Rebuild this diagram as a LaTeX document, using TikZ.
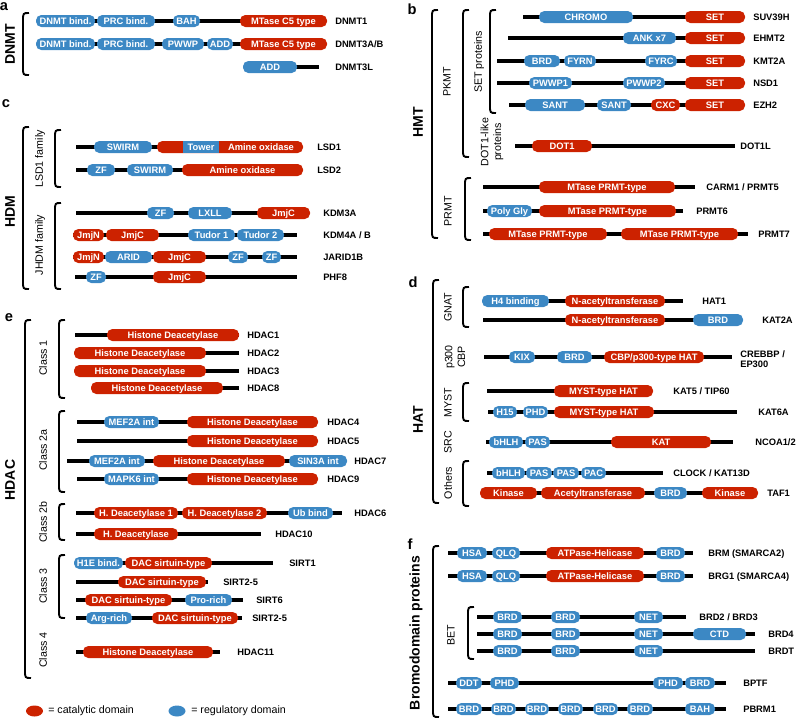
\documentclass[tikz,border=0pt]{standalone}
\usepackage{fontspec}
\setmainfont{Liberation Sans}
\definecolor{domRed}{HTML}{CC2200}
\definecolor{domBlue}{HTML}{3C88C4}

\begin{document}
\begin{tikzpicture}[x=0.75pt,y=-0.75pt,
  bar/.style={line width=3.6pt,black},
  brace/.style={line width=1.4pt,black},
  dtxt/.style={text=white,font=\fontsize{7}{8}\selectfont\bfseries,inner sep=0pt,text height=5pt,text depth=0pt},
  plab/.style={anchor=west,font=\fontsize{7}{8}\selectfont\bfseries,inner sep=0pt,text height=5pt,text depth=0pt},
  grp/.style={rotate=90,font=\fontsize{8}{9.5}\selectfont,align=center},
  fam/.style={rotate=90,font=\fontsize{10.5}{12}\selectfont\bfseries},
  pnl/.style={font=\fontsize{11}{12}\selectfont\bfseries}]
  \useasboundingbox (0,0) rectangle (796,719);
  % panel letters
  \foreach \x/\y/\txt in {4/7/a, 412/9/b, 6/104/c, 413/282/d, 9/318/e, 410/544/f}
    \node[pnl] at (\x,\y) {\txt};
  % family names
  \foreach \x/\y/\txt in {10/44/DNMT, 418/122/HMT, 10/212/HDM, 418/420/HAT, 10/480/HDAC, 416/633/Bromodomain proteins}
    \node[fam] at (\x,\y) {\txt};
  % group names
  \foreach \x/\y/\txt in {447/82/PKMT, 479/62/SET proteins, 492/142/{DOT1-like\\proteins}, 448/211/PRMT,
      40/159/LSD1 family, 40/245/JHDM family, 448/307/GNAT, 455/357/{p300\\CBP}, 448/403/MYST, 448/442/SRC,
      448/483/Others, 43/358/Class 1, 43/450/Class 2a, 43/522/Class 2b, 43/586/Class 3, 43/650/Class 4, 451/635/BET}
    \node[grp] at (\x,\y) {\txt};
  % brackets
  \foreach \x/\ya/\yb in {23/13/75, 432/10/238, 463/10/157, 490/10/113, 465/178/240, 23/127/289, 55/130/187,
      55/203/289, 433/280/503, 463/287/327, 463/383/421, 463/461/506, 25/320/678, 59/320/398, 59/411/492,
      59/504/540, 59/555/618, 433/546/717, 468/607/659}
    \draw[brace] (\x+6,\ya) .. controls (\x,\ya) .. (\x,\ya+8) -- (\x,\yb-8) .. controls (\x,\yb) .. (\x+6,\yb);
  % protein backbones
  \foreach \y/\xa/\xb in {21/40/320, 44/40/320, 67/250/319,
      17/523/700, 38/508/700, 61/497/700, 83/497/700, 105/509/700, 146/515/735, 187/483/695, 211/483/683, 234/483/748,
      147/76/300, 170/76/300, 213/76/305, 235/73/297, 257/73/297, 277/75/297,
      301/490/683, 320/483/700, 357/484/732, 391/487/640, 412/488/737, 442/486/733, 473/487/663, 493/490/750,
      335/75/239, 353/80/239, 371/80/239, 388/95/239, 422/77/310, 441/77/310, 461/67/340, 479/77/310,
      513/76/342, 534/76/261, 563/80/273, 582/76/208, 600/76/243, 618/76/242, 652/76/220,
      553/448/693, 576/448/693, 617/477/686, 634/477/755, 651/477/755, 683/448/726, 709/448/726}
    \draw[bar] (\xa,\y) -- (\xb,\y);
  % catalytic domains
  \foreach \y/\xa/\xb/\txt in {21/240/327/MTase C5 type, 44/240/327/MTase C5 type,
      17/685/745/SET, 38/685/745/SET, 61/685/745/SET, 83/685/745/SET, 105/685/745/SET, 105/651/680/CXC,
      146/532/592/DOT1, 187/539/675/MTase PRMT-type, 211/539/676/MTase PRMT-type, 234/489/607/MTase PRMT-type,
      234/621/738/MTase PRMT-type,
      170/182/303/Amine oxidase, 213/257/310/JmjC, 235/73/104/JmjN, 235/106/159/JmjC, 257/73/104/JmjN,
      257/153/206/JmjC, 277/153/206/JmjC,
      301/565/665/N-acetyltransferase, 320/565/665/N-acetyltransferase, 357/604/704/{CBP/p300-type HAT},
      391/554/653/MYST-type HAT, 412/554/654/MYST-type HAT, 442/611/711/KAT, 493/480/537/Kinase,
      493/541/645/Acetyltransferase, 493/702/758/Kinase,
      335/107/239/Histone Deacetylase, 353/74/206/Histone Deacetylase, 371/74/206/Histone Deacetylase,
      388/91/223/Histone Deacetylase, 422/187/318/Histone Deacetylase, 441/187/318/Histone Deacetylase,
      461/153/285/Histone Deacetylase, 479/187/318/Histone Deacetylase, 513/94/178/H. Deacetylase 1,
      513/182/267/H. Deacetylase 2, 534/94/178/H. Deacetylase, 563/125/212/DAC sirtuin-type,
      582/118/206/DAC sirtuin-type, 600/85/172/DAC sirtuin-type, 618/152/238/DAC sirtuin-type,
      652/83/213/Histone Deacetylase,
      553/546/644/ATPase-Helicase, 576/546/644/ATPase-Helicase}{
    \fill[domRed,rounded corners=4pt] (\xa,\y-6) rectangle (\xb,\y+6);
    \node[dtxt] at ({(\xa+\xb)/2},\y) {\txt};}
  % regulatory domains
  \foreach \y/\xa/\xb/\txt in {21/36/95/DNMT bind., 21/97/155/PRC bind., 21/173/200/BAH, 44/36/95/DNMT bind.,
      44/97/155/PRC bind., 44/162/204/PWWP, 44/207/233/ADD, 67/243/297/ADD,
      17/539/633/CHROMO, 38/623/676/ANK x7, 61/524/560/BRD, 61/564/596/FYRN, 61/645/677/FYRC, 83/529/572/PWWP1,
      83/623/665/PWWP2, 105/525/585/SANT, 105/597/631/SANT, 211/487/532/Poly Gly,
      147/94/152/SWIRM, 170/87/115/ZF, 170/127/173/SWIRM, 213/147/174/ZF, 213/188/232/LXLL, 235/188/235/Tudor 1,
      235/237/284/Tudor 2, 257/105/152/ARID, 257/228/248/ZF, 257/262/281/ZF, 277/86/106/ZF,
      301/482/549/H4 binding, 320/693/743/BRD, 357/509/535/KIX, 357/557/592/BRD, 412/493/517/H15, 412/523/548/PHD,
      442/489/523/bHLH, 442/525/550/PAS, 473/492/525/bHLH, 473/526/552/PAS, 473/553/579/PAS, 473/581/606/PAC,
      493/654/687/BRD,
      422/104/159/MEF2A int, 461/89/145/MEF2A int, 461/289/347/SIN3A int, 479/104/159/MAPK6 int,
      513/288/333/Ub bind, 563/74/123/H1E bind., 600/185/232/Pro-rich, 618/86/132/Arg-rich,
      553/457/487/HSA, 553/492/520/QLQ, 553/656/685/BRD, 576/457/487/HSA, 576/492/520/QLQ, 576/656/685/BRD,
      634/693/746/CTD, 683/456/482/DDT, 683/490/519/PHD, 683/653/683/PHD, 683/685/715/BRD, 709/685/715/BAH}{
    \fill[domBlue,rounded corners=4pt] (\xa,\y-6) rectangle (\xb,\y+6);
    \node[dtxt] at ({(\xa+\xb)/2},\y) {\txt};}
  % BET rows and PBRM1 repeats
  \foreach \y in {617,634,651}
    \foreach \xa/\xb/\txt in {493/522/BRD, 551/580/BRD, 634/663/NET}{
      \fill[domBlue,rounded corners=4pt] (\xa,\y-6) rectangle (\xb,\y+6);
      \node[dtxt] at ({(\xa+\xb)/2},\y) {\txt};}
  \foreach \xa/\xb in {456/482, 491/516, 525/549, 558/583, 593/618, 627/653}{
    \fill[domBlue,rounded corners=4pt] (\xa,703) rectangle (\xb,715);
    \node[dtxt] at ({(\xa+\xb)/2},709) {BRD};}
  % LSD1 split domain
  \fill[domRed,rounded corners=4pt] (157,141) rectangle (303,153);
  \fill[domBlue] (183,141) rectangle (219,153);
  \node[dtxt] at (201,147) {Tower};
  \node[dtxt] at (261,147) {Amine oxidase};
  % protein names
  \foreach \y/\x/\txt in {21/335/DNMT1, 44/335/{DNMT3A/B}, 67/335/DNMT3L,
      17/753/SUV39H, 38/753/EHMT2, 61/753/KMT2A, 83/753/NSD1, 105/753/EZH2, 146/740/DOT1L,
      187/706/{CARM1 / PRMT5}, 211/696/PRMT6, 234/758/PRMT7,
      147/317/LSD1, 170/317/LSD2, 213/323/KDM3A, 235/323/{KDM4A / B}, 257/323/JARID1B, 277/323/PHF8,
      301/702/HAT1, 320/762/KAT2A, 391/673/{KAT5 / TIP60}, 412/758/KAT6A, 442/755/{NCOA1/2},
      473/673/{CLOCK / KAT13D}, 493/767/TAF1,
      335/247/HDAC1, 353/247/HDAC2, 371/247/HDAC3, 388/247/HDAC8, 422/327/HDAC4, 441/327/HDAC5,
      461/354/HDAC7, 479/327/HDAC9, 513/354/HDAC6, 534/275/HDAC10, 563/289/SIRT1, 582/223/SIRT2-5,
      600/256/SIRT6, 618/252/SIRT2-5, 652/237/HDAC11,
      553/708/BRM (SMARCA2), 576/708/BRG1 (SMARCA4), 617/699/{BRD2 / BRD3}, 634/768/BRD4, 651/768/BRDT,
      683/743/BPTF, 709/743/PBRM1}
    \node[plab] at (\x,\y) {\txt};
  \node[anchor=west,inner sep=0pt,align=left,font=\fontsize{7}{7.6}\selectfont\bfseries] at (740,359) {CREBBP /\\EP300};
  % legend
  \fill[domRed] (34.5,711) ellipse [x radius=8.5, y radius=5.5];
  \fill[domBlue] (177,711) ellipse [x radius=8.5, y radius=5.5];
  \node[anchor=west,inner sep=0pt,font=\fontsize{8}{9}\selectfont] at (48,711) {= catalytic domain};
  \node[anchor=west,inner sep=0pt,font=\fontsize{8}{9}\selectfont] at (191,711) {= regulatory domain};
\end{tikzpicture}
\end{document}
